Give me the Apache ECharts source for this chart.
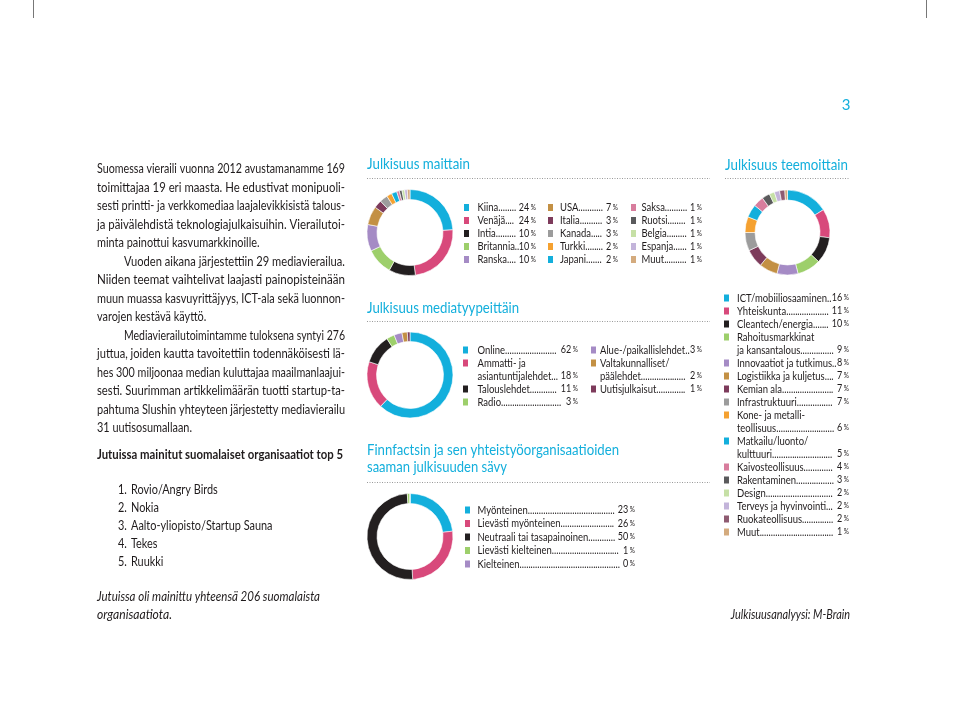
<!DOCTYPE html>
<html>
<head>
<meta charset="utf-8">
<script src="https://cdn.jsdelivr.net/npm/echarts@6/dist/echarts.min.js"></script>
<style>
html, body { margin: 0; padding: 0; background: #fff; }
#chart { width: 960px; height: 727px; }
</style>
</head>
<body>
<div id="chart"></div>
<script>
// --- data ---
var countryNames = ['Kiina', 'Venäjä', 'Intia', 'Britannia', 'Ranska', 'USA', 'Italia', 'Kanada', 'Turkki', 'Japani', 'Saksa', 'Ruotsi', 'Belgia', 'Espanja', 'Muut']
var countryValues = [24, 24, 10, 10, 10, 7, 3, 3, 2, 2, 1, 1, 1, 1, 1]

var mediaNames = ['Online', 'Ammatti- ja\nasiantuntijalehdet', 'Talouslehdet', 'Radio', 'Alue-/paikallislehdet', 'Valtakunnalliset/\npäälehdet', 'Uutisjulkaisut']
var mediaValues = [62, 18, 11, 3, 3, 2, 1]

var toneNames = ['Myönteinen', 'Lievästi myönteinen', 'Neutraali tai tasapainoinen', 'Lievästi kielteinen', 'Kielteinen']
var toneValues = [23, 26, 50, 1, 0]

var themeNames = ['ICT/mobiiliosaaminen', 'Yhteiskunta', 'Cleantech/energia', 'Rahoitusmarkkinat\nja kansantalous', 'Innovaatiot ja tutkimus', 'Logistiikka ja kuljetus', 'Kemian ala', 'Infrastruktuuri', 'Kone- ja metalli-\nteollisuus', 'Matkailu/luonto/\nkulttuuri', 'Kaivosteollisuus', 'Rakentaminen', 'Design', 'Terveys ja hyvinvointi', 'Ruokateollisuus', 'Muut']
var themeValues = [16, 11, 10, 9, 8, 7, 7, 7, 6, 5, 4, 3, 2, 2, 2, 1]

var topOrgs = ['Rovio/Angry Birds', 'Nokia', 'Aalto-yliopisto/Startup Sauna', 'Tekes', 'Ruukki']

var bodyLines = [
  { t: 'Suomessa vieraili vuonna 2012 avustamanamme 169', j: true },
  { t: 'toimittajaa 19 eri maasta. He edustivat monipuoli-', j: true },
  { t: 'sesti printti- ja verkkomediaa laajalevikkisistä talous-', j: true },
  { t: 'ja päivälehdistä teknologiajulkaisuihin. Vierailutoi-', j: true },
  { t: 'minta painottui kasvumarkkinoille.', j: false },
  { t: 'Vuoden aikana järjestettiin 29 mediavierailua.', j: true, indent: true },
  { t: 'Niiden teemat vaihtelivat laajasti painopisteinään', j: true },
  { t: 'muun muassa kasvuyrittäjyys, ICT-ala sekä luonnon-', j: true },
  { t: 'varojen kestävä käyttö.', j: false },
  { t: 'Mediavierailutoimintamme tuloksena syntyi 276', j: true, indent: true },
  { t: 'juttua, joiden kautta tavoitettiin todennäköisesti lä-', j: true },
  { t: 'hes 300 miljoonaa median kuluttajaa maailmanlaajui-', j: true },
  { t: 'sesti. Suurimman artikkelimäärän tuotti startup-ta-', j: true },
  { t: 'pahtuma Slushin yhteyteen järjestetty mediavierailu', j: true },
  { t: '31 uutisosumallaan.', j: false }
]

// --- styles ---
var FONT = 'Lato'
var INK = '#1f1b1c'
var CYAN = '#13afdc'
var PINK = '#d8497b'
var BLACK = '#231f20'
var GREEN = '#9dcf6b'
var PURPLE = '#a58bc5'
var TAN = '#c39044'
var MAROON = '#7d3b5b'
var GRAY = '#9c9c9c'
var ORANGE = '#f5a130'
var PINK2 = '#d87d9d'
var DGRAY = '#5a5a5c'
var LGREEN = '#c6e0a6'
var LPURPLE = '#c3b4da'
var LTAN = '#d4ab7e'
var MAROON2 = '#8e5b71'

var countryColors = [CYAN, PINK, BLACK, GREEN, PURPLE, TAN, MAROON, GRAY, ORANGE, CYAN, PINK2, DGRAY, LGREEN, LPURPLE, LTAN]
var mediaColors = [CYAN, PINK, BLACK, GREEN, PURPLE, TAN, MAROON]
var toneColors = [CYAN, PINK, BLACK, GREEN, PURPLE]
var themeColors = [CYAN, PINK, BLACK, GREEN, PURPLE, TAN, MAROON, GRAY, ORANGE, CYAN, PINK2, DGRAY, LGREEN, LPURPLE, MAROON2, LTAN]

var ctx = document.createElement('canvas').getContext('2d')
function tw(str, font) {
  ctx.font = font
  return ctx.measureText(str).width
}
function fnt(size, weight, style) {
  return (style || 'normal') + ' ' + (weight || 'normal') + ' ' + size + 'px ' + FONT
}

function txt(x, y, str, o) {
  o = o || {}
  var size = o.size || 13
  var font = fnt(size, o.weight, o.style)
  var sx = o.width ? o.width / tw(str, font) : (o.sx || 1)
  return {
    type: 'text', x: x, y: y, scaleX: sx, silent: true,
    style: {
      text: str, fill: o.color || INK,
      fontFamily: FONT, fontSize: size, fontWeight: o.weight || 'normal', fontStyle: o.style || 'normal',
      align: o.align || 'left', verticalAlign: 'middle', rich: o.rich
    }
  }
}

var els = []

// crop marks and page number
els.push({ type: 'line', silent: true, shape: { x1: 33.5, y1: 0, x2: 33.5, y2: 18 }, style: { stroke: '#777', lineWidth: 1 } })
els.push({ type: 'line', silent: true, shape: { x1: 926.5, y1: 0, x2: 926.5, y2: 18 }, style: { stroke: '#777', lineWidth: 1 } })
els.push(txt(846, 105, '3', { size: 15, color: CYAN, align: 'center' }))

// body paragraphs, justified
var bodyLeft = 97, bodyRight = 345, bodySize = 13.5
var bodyFont = fnt(bodySize)
var ratios = []
bodyLines.forEach(function (ln) {
  var x = bodyLeft + (ln.indent ? 27 : 0)
  ln.ratio = (bodyRight - x) / tw(ln.t, bodyFont)
  if (ln.j) ratios.push(ln.ratio)
})
ratios.sort(function (a, b) { return a - b })
var S = ratios[Math.floor(ratios.length * 0.4)]
bodyLines.forEach(function (ln, i) {
  var y = 169 + i * 18.5
  var x = bodyLeft + (ln.indent ? 27 : 0)
  var s = ln.j ? Math.min(S * 1.07, ln.ratio) : S
  var words = ln.t.split(' ')
  var ws = words.map(function (w) { return tw(w, bodyFont) * s })
  var gap = tw(' ', bodyFont) * s
  if (ln.j && words.length > 1) {
    var sum = ws.reduce(function (a, b) { return a + b }, 0)
    gap = (bodyRight - x - sum) / (words.length - 1)
  }
  words.forEach(function (w, k) {
    els.push(txt(x, y, w, { size: bodySize, sx: s }))
    x += ws[k] + gap
  })
})

els.push(txt(97, 455, 'Jutuissa mainitut suomalaiset organisaatiot top 5', { size: 13.5, weight: 'bold', width: 246 }))
topOrgs.forEach(function (o, i) {
  var y = 490 + i * 18
  els.push(txt(118, y, (i + 1) + '.', { size: 13.5, sx: S }))
  els.push(txt(131, y, o, { size: 13.5, sx: S }))
})
els.push(txt(97, 597, 'Jutuissa oli mainittu yhteensä 206 suomalaista', { size: 13.5, style: 'italic', width: 223 }))
els.push(txt(97, 615, 'organisaatiota.', { size: 13.5, style: 'italic', width: 75 }))
els.push(txt(850, 615, 'Julkisuusanalyysi: M-Brain', { size: 13.5, style: 'italic', sx: S, align: 'right' }))

// section titles
function title(x, y, str, w) {
  els.push(txt(x, y, str, { size: 16, color: CYAN, width: w }))
}
function dotted(x1, x2, y) {
  els.push({ type: 'line', silent: true, shape: { x1: x1, y1: y, x2: x2, y2: y }, style: { stroke: '#9a9a9a', lineWidth: 1, lineDash: [1, 1.5] } })
}
title(367, 164, 'Julkisuus maittain', 103)
dotted(367, 710, 178.5)
title(725, 165, 'Julkisuus teemoittain', 123)
dotted(725, 850, 178.5)
title(367, 308, 'Julkisuus mediatyypeittäin', 152)
dotted(367, 710, 321.5)
title(367, 450, 'Finnfactsin ja sen yhteistyöorganisaatioiden', 252)
title(367, 467, 'saaman julkisuuden sävy', 140)
dotted(367, 710, 482.5)

// legends with dotted leaders
var SL = 0.86, LS = 11
var lf = fnt(LS)
var nf = fnt(10.5), pf = fnt(7.5)
function legendCol(names, values, colors, sqX, textX, right, y0, step) {
  var row = 0
  names.forEach(function (name, i) {
    var lines = name.split('\n')
    var y = y0 + row * step
    els.push({ type: 'rect', silent: true, shape: { x: sqX, y: y - 3.5, width: 5, height: 7 }, style: { fill: colors[i] } })
    for (var k = 0; k < lines.length - 1; k++) {
      els.push(txt(textX, y0 + row * step, lines[k], { size: LS, sx: SL }))
      row++
    }
    y = y0 + row * step
    var last = lines[lines.length - 1]
    var vStr = String(values[i])
    var valW = (tw(vStr, nf) + tw(' %', pf)) * SL
    var avail = right - valW - 2.5 - textX
    var nameW = tw(last, lf) * SL
    var dotW = tw('.', lf) * SL
    var n = Math.max(2, Math.floor((avail - nameW) / dotW))
    els.push(txt(textX, y, last + new Array(n + 1).join('.'), { size: LS, sx: SL }))
    els.push(txt(right, y, '{n|' + vStr + '}{p| %}', {
      size: LS, sx: SL, align: 'right',
      rich: { n: { fontSize: 10.5, fontFamily: FONT, fill: INK }, p: { fontSize: 7.5, fontFamily: FONT, fill: INK } }
    }))
    row++
  })
}
legendCol(countryNames.slice(0, 5), countryValues.slice(0, 5), countryColors.slice(0, 5), 464, 477.5, 536, 207.5, 13)
legendCol(countryNames.slice(5, 10), countryValues.slice(5, 10), countryColors.slice(5, 10), 548, 560, 618, 207.5, 13)
legendCol(countryNames.slice(10), countryValues.slice(10), countryColors.slice(10), 631, 641.5, 702, 207.5, 13)
legendCol(mediaNames.slice(0, 4), mediaValues.slice(0, 4), mediaColors.slice(0, 4), 463, 477.5, 578, 350, 13)
legendCol(mediaNames.slice(4), mediaValues.slice(4), mediaColors.slice(4), 591, 600, 702, 350, 13)
legendCol(toneNames, toneValues, toneColors, 465, 477.5, 635, 510, 13.5)
legendCol(themeNames, themeValues, themeColors, 724, 737, 849, 298, 13)

// donuts
function donut(center, r, names, values, colors) {
  return {
    type: 'pie',
    center: center,
    radius: r,
    startAngle: 90,
    clockwise: true,
    silent: true,
    label: { show: false },
    labelLine: { show: false },
    itemStyle: { borderColor: '#fff', borderWidth: 0.6 },
    data: names.map(function (n, i) {
      return { name: n, value: values[i], itemStyle: { color: colors[i] } }
    })
  }
}

var chart = echarts.init(document.getElementById('chart'))
chart.setOption({
  animation: false,
  series: [
    donut([410, 232.5], [33, 43], countryNames, countryValues, countryColors),
    donut([410, 375], [33.5, 43], mediaNames, mediaValues, mediaColors),
    donut([410, 536.5], [33, 43], toneNames, toneValues, toneColors),
    donut([787.5, 232.5], [32.5, 42.5], themeNames, themeValues, themeColors)
  ],
  graphic: { elements: els }
})
</script>
</body>
</html>
